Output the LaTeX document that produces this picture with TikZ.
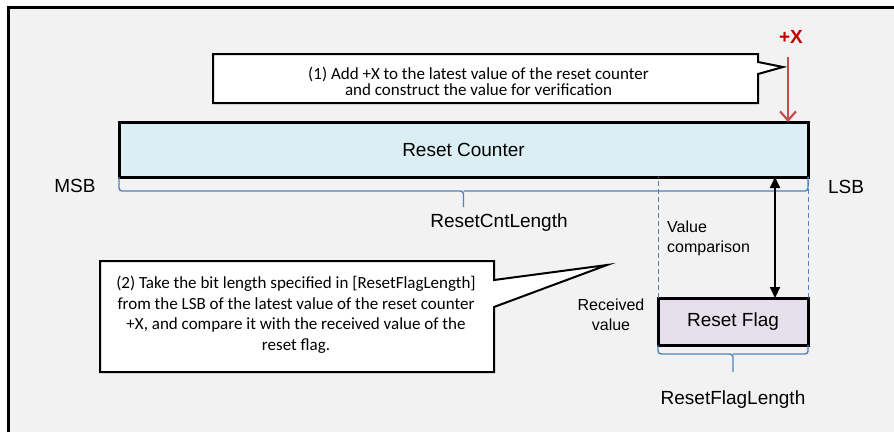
\documentclass[tikz,border=0pt]{standalone}
\usepackage{fontspec}
\setmainfont{Liberation Sans}
\newfontfamily\calloutfont{Carlito}
\usetikzlibrary{arrows.meta,calc}

\definecolor{panelgray}{HTML}{F2F2F2}
\definecolor{counterfill}{HTML}{DAEEF3}
\definecolor{flagfill}{HTML}{E5E0EC}
\definecolor{bracketblue}{HTML}{4F81BD}
\definecolor{addred}{HTML}{C0504D}
\definecolor{plusred}{HTML}{C00000}

\tikzset{
  regbox/.style={draw=black, line width=3pt, inner sep=0pt, outer sep=0pt,
    font=\fontsize{19}{22}\selectfont},
  bracket/.style={draw=bracketblue, line width=1.4pt, rounded corners=3pt},
  dashline/.style={draw=bracketblue, line width=1pt, dash pattern=on 5pt off 3pt},
  cmparrow/.style={draw=black, line width=2pt,
    {Triangle[length=11pt,width=10pt]}-{Triangle[length=11pt,width=10pt]}},
  addarrow/.style={draw=addred, line width=2.2pt,
    -{Straight Barb[length=9pt,width=16pt,line width=2.2pt]}},
  label/.style={font=\fontsize{19}{22}\selectfont, inner sep=0pt},
  smalllabel/.style={font=\fontsize{16}{20}\selectfont, inner sep=0pt},
  calloutbox/.style={draw=none, inner sep=0pt, outer sep=0pt},
  calloutline/.style={draw=black, fill=white, line width=2pt, line join=miter},
  callouttext/.style={inner sep=0pt, align=center, font=\calloutfont\fontsize{17}{#1}\selectfont},
}

\begin{document}
\begin{tikzpicture}[x=1pt,y=-1pt]
\useasboundingbox (0,0) rectangle (894,432);

% panel with its frame on the left and top
\fill[white] (0,0) rectangle (894,432);
\fill[panelgray] (8.75,7.5) rectangle (894,432);
\draw[line width=3pt, line join=miter] (8.75,432) -- (8.75,7.5) -- (894,7.5);

% registers
\node[regbox, fill=counterfill, minimum width=689pt, minimum height=55pt]
  (rc) at (463.5,149.5) {Reset Counter};
\node[regbox, fill=flagfill, minimum width=150pt, minimum height=47pt]
  (rf) at (733,321.5) {Reset Flag};

% the flag's bits projected onto the counter
\draw[dashline] (rf.north west) -- (rf.north west |- rc.south);
\draw[dashline] (rf.north east) -- (rf.north east |- rc.south);

% length brackets
\draw[bracket] (rc.south west) -- ++(0,14) coordinate (cb1) -- (cb1 -| rc.south) -- ++(0,16);
\draw[bracket] (rc.south east) -- ++(0,14) coordinate (cb2) -- (cb2 -| rc.south);
\draw[bracket] (rf.south west) -- ++(0,9) coordinate (fb1) -- (fb1 -| rf.south) -- ++(0,18);
\draw[bracket] (rf.south east) -- ++(0,9) coordinate (fb2) -- (fb2 -| rf.south);

% value comparison
\coordinate (cmpx) at (775,0);
\draw[cmparrow] (rc.south -| cmpx) -- (rf.north -| cmpx);

% adding +X
\node[font=\bfseries\fontsize{19}{22}\selectfont, text=plusred, inner sep=0pt]
  (px) at (791,37) {+X};
\coordinate (xtop) at (788,57);
\draw[addarrow] (xtop) -- (xtop |- rc.north);

% labels
\node[label] (msb) at (75,186) {MSB};
\node[label] (lsb) at (846,187) {LSB};
\node[label] (cntlen) at (499,223) {ResetCntLength};
\node[label] (flaglen) at (733,400) {ResetFlagLength};
\node[smalllabel, anchor=west, align=left] (cmptext) at (667,238) {Value\\comparison};
\node[smalllabel, align=center] (rcvtext) at (611,315) {Received\\value};

% callout (1)
\node[calloutbox, minimum width=545pt, minimum height=49pt] (c1) at (485.5,78.5) {};
\coordinate (tip1) at (783,67);
\draw[calloutline] (c1.north west) -- (c1.north east) -- ($(c1.north east)+(0,8)$)
  -- (tip1) -- ($(c1.north east)+(0,20)$) -- (c1.south east) -- (c1.south west) -- cycle;
\node[callouttext=16] (t1) at ($(c1.center)+(-7,2.5)$)
  {(1) Add +X to the latest value of the reset counter\\and construct the value for verification};

% callout (2)
\node[calloutbox, minimum width=394pt, minimum height=111pt] (c2) at (297,316.5) {};
\coordinate (tip2) at (607,265);
\draw[calloutline] (c2.north west) -- (c2.north east) -- ($(c2.north east)+(0,19)$)
  -- (tip2) -- ($(c2.north east)+(0,46)$) -- (c2.south east) -- (c2.south west) -- cycle;
\node[callouttext=20.5] (t2) at ($(c2.center)+(-1,-2)$)
  {(2) Take the bit length specified in [ResetFlagLength]\\from the LSB of the latest value of the reset counter\\+X, and compare it with the received value of the\\reset flag.};
\end{tikzpicture}
\end{document}
